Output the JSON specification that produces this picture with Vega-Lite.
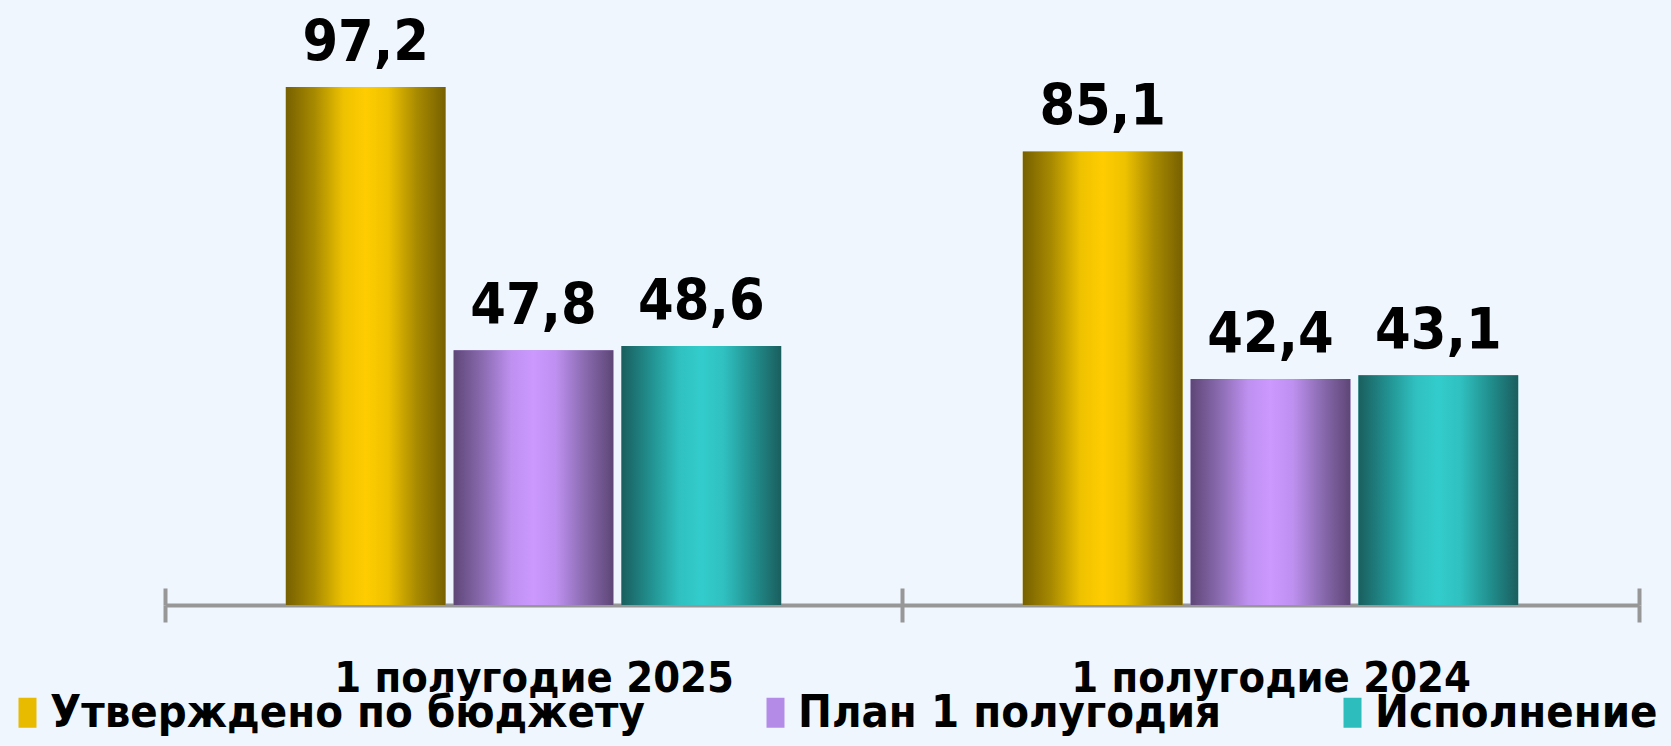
{
  "$schema": "https://vega.github.io/schema/vega-lite/v6.json",
  "width": 1474,
  "height": 605,
  "autosize": {"type": "none"},
  "padding": {"left": 165, "top": 0, "right": 32, "bottom": 141},
  "background": "#EFF6FD",
  "config": {
    "view": {"stroke": null},
    "locale": {"number": {"decimal": ",", "thousands": " ", "grouping": [3], "currency": ["", ""]}}
  },
  "data": {
    "values": [
      {"period": "1 полугодие 2025", "series": "Утверждено по бюджету", "value": 97.2},
      {"period": "1 полугодие 2025", "series": "План 1 полугодия", "value": 47.8},
      {"period": "1 полугодие 2025", "series": "Исполнение", "value": 48.6},
      {"period": "1 полугодие 2024", "series": "Утверждено по бюджету", "value": 85.1},
      {"period": "1 полугодие 2024", "series": "План 1 полугодия", "value": 42.4},
      {"period": "1 полугодие 2024", "series": "Исполнение", "value": 43.1}
    ]
  },
  "encoding": {
    "x": {
      "field": "period", "type": "nominal",
      "scale": {"domain": ["1 полугодие 2025", "1 полугодие 2024"], "paddingInner": 0, "paddingOuter": 0}
    },
    "xOffset": {
      "field": "series", "type": "nominal",
      "scale": {"domain": ["Утверждено по бюджету", "План 1 полугодия", "Исполнение"], "paddingInner": 0.048, "paddingOuter": 0.72}
    },
    "y": {"field": "value", "type": "quantitative", "scale": {"domain": [0, 113.5], "nice": false, "zero": true}, "axis": null}
  },
  "layer": [
    {
      "mark": {"type": "bar"},
      "encoding": {
        "x": {
          "field": "period", "type": "nominal",
          "axis": {
            "title": null, "orient": "bottom", "labelAngle": 0,
            "domainColor": "#979797", "domainWidth": 4,
            "tickColor": "#979797", "tickWidth": 4, "tickSize": 17, "tickBand": "extent",
            "labelFont": "Liberation Sans Narrow, DejaVu Sans Condensed, sans-serif",
            "labelFontSize": 43, "labelFontWeight": "bold", "labelColor": "#000000",
            "labelPadding": 35, "labelLimit": 1000, "grid": false
          }
        },
        "color": {
          "field": "series", "type": "nominal",
          "scale": {"domain": ["Утверждено по бюджету", "План 1 полугодия", "Исполнение"], "range": ["#E8BA00", "#B48CE8", "#2DBDBD"]},
          "legend": {
            "title": null, "orient": "none", "legendX": -160, "legendY": 690,
            "direction": "horizontal", "columns": 3, "padding": 0,
            "symbolType": "M-1.2,-2H1.2V2H-1.2Z", "symbolSize": 225, "symbolStrokeWidth": 0,
            "labelFont": "Liberation Sans Narrow, DejaVu Sans Condensed, sans-serif",
            "labelFontSize": 45, "labelFontWeight": "bold", "labelColor": "#000000",
            "labelOffset": 0, "columnPadding": 108, "labelLimit": 2000
          }
        }
      }
    },
    {
      "mark": {"type": "bar"},
      "encoding": {
        "x": {"field": "period", "type": "nominal", "axis": null},
        "color": {
          "condition": [
            {"test": "datum.series === 'Утверждено по бюджету'", "value": {"gradient": "linear", "x1": 0, "y1": 0, "x2": 1, "y2": 0, "stops": [
              {"offset": 0, "color": "#776000"}, {"offset": 0.18, "color": "#A88A00"}, {"offset": 0.36, "color": "#EEC200"},
              {"offset": 0.5, "color": "#FFCC00"}, {"offset": 0.64, "color": "#EEC200"}, {"offset": 0.82, "color": "#A88A00"}, {"offset": 1, "color": "#776000"}]}},
            {"test": "datum.series === 'План 1 полугодия'", "value": {"gradient": "linear", "x1": 0, "y1": 0, "x2": 1, "y2": 0, "stops": [
              {"offset": 0, "color": "#5E4677"}, {"offset": 0.18, "color": "#8A6BB0"}, {"offset": 0.36, "color": "#BE90F0"},
              {"offset": 0.5, "color": "#CC99FF"}, {"offset": 0.64, "color": "#BE90F0"}, {"offset": 0.82, "color": "#8A6BB0"}, {"offset": 1, "color": "#5E4677"}]}}
          ],
          "value": {"gradient": "linear", "x1": 0, "y1": 0, "x2": 1, "y2": 0, "stops": [
            {"offset": 0, "color": "#1A5E5E"}, {"offset": 0.18, "color": "#21908F"}, {"offset": 0.36, "color": "#30C0C0"},
            {"offset": 0.5, "color": "#33CCCC"}, {"offset": 0.64, "color": "#30C0C0"}, {"offset": 0.82, "color": "#21908F"}, {"offset": 1, "color": "#1A5E5E"}]}
        }
      }
    },
    {
      "mark": {"type": "text", "baseline": "alphabetic", "align": "center", "dy": -26,
        "font": "Liberation Sans Narrow, DejaVu Sans Condensed, sans-serif", "fontSize": 57, "fontWeight": "bold", "color": "#000000"},
      "encoding": {
        "x": {
          "field": "period", "type": "nominal",
          "axis": {
            "title": null, "orient": "top", "offset": -605, "labels": false, "domain": false,
            "tickColor": "#979797", "tickWidth": 4, "tickSize": 17, "tickBand": "extent", "grid": false
          }
        },
        "text": {"field": "value", "type": "quantitative", "format": ".1f"}
      }
    }
  ],
  "resolve": {"axis": {"x": "independent"}}
}
